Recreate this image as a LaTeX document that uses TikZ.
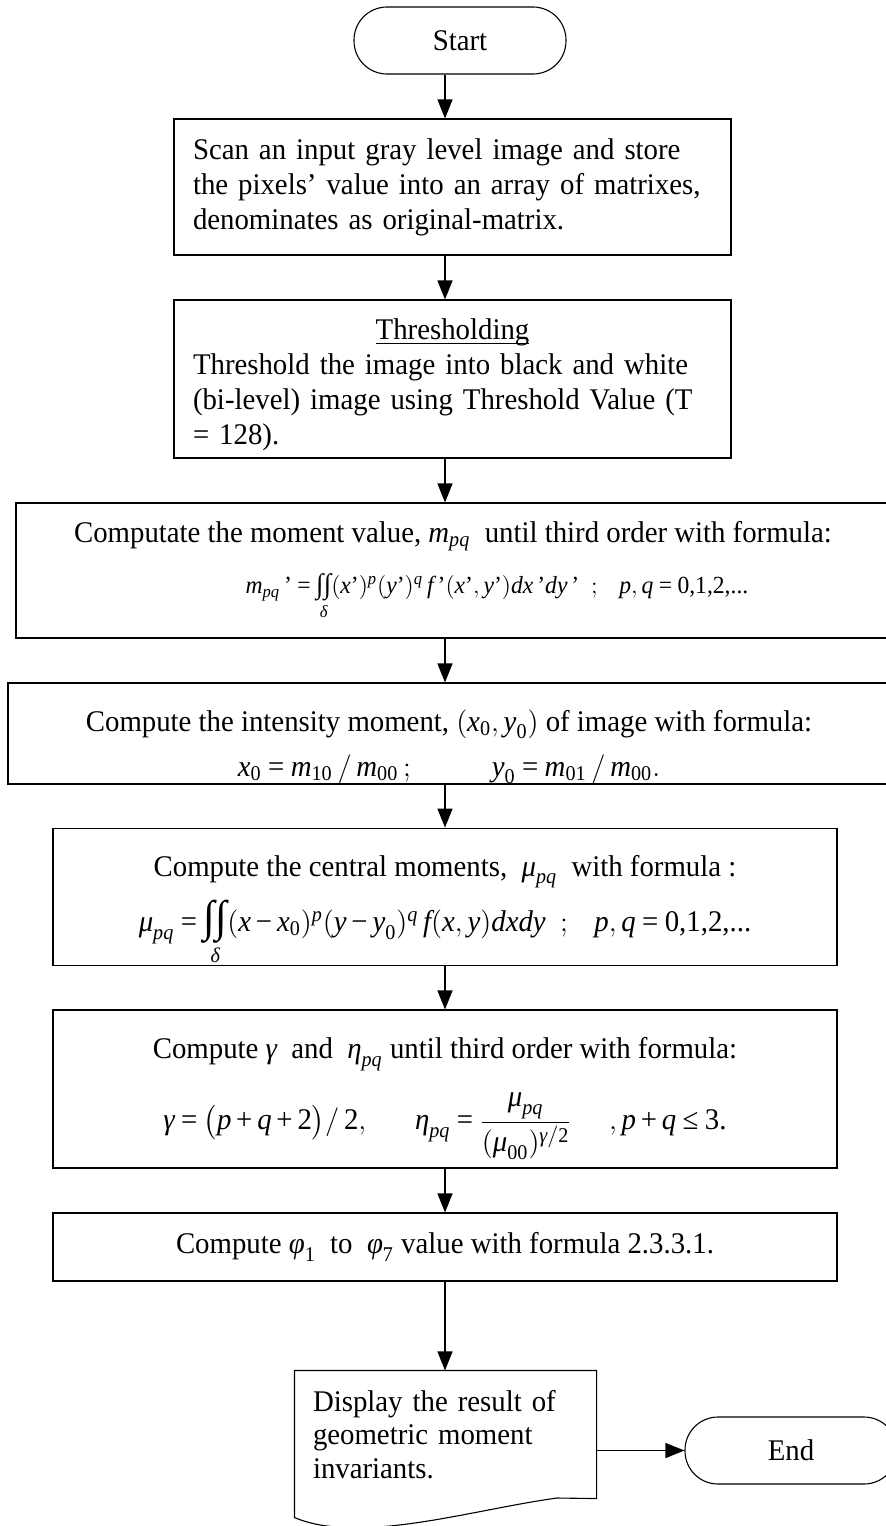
\documentclass[tikz,border=0pt]{standalone}
\usepackage{amsmath}
\usepackage{fontspec}
\setmainfont[FakeStretch=0.96]{Liberation Serif}
\usetikzlibrary{arrows.meta}
\newcommand\mi[1]{\textit{#1}}
\newcommand\tx[1]{\textup{#1}}
\newcommand\eq{\mathrel{\tx{=}}}
\newcommand\pl{\mathbin{\tx{+}}}
\newcommand\mn{\mathbin{\tx{−}}}
\newcommand\dint[1]{\mathop{\text{\fontsize{#1}{#1}\selectfont∫\kern.02em∫}}\limits}
\medmuskip=3mu\relax
\thickmuskip=4mu\relax

\begin{document}
\begin{tikzpicture}[x=.5pt,y=-.5pt,>={Triangle[length=9.5pt,width=7.5pt]},
 box/.style={draw,line width=.55pt,inner sep=0pt,align=center,font=\fontsize{15}{17.5}\selectfont},
 term/.style={box,rounded corners=16.5pt,minimum width=106pt,minimum height=33.5pt},
 flow/.style={->,line width=.65pt}]
 \useasboundingbox(0,0)rectangle(885,1526);
 \coordinate(spine)at(445,0);
 \node[term](start)at(460,40.5){Start};
 \node[box,minimum width=278.5pt,minimum height=68pt,text width=259.5pt,align=left](scan)at(452.5,187)
  {Scan an input gray level image and store\\the pixels’ value into an array of matrixes,\\denominates as original-matrix.};
 \node[box,minimum width=278.5pt,minimum height=79pt,text width=259.5pt,align=left](thr)at(452.5,379)
  {\rule{0pt}{16pt}\hfill\underline{\smash{Thresholding}}\hfill\null\\Threshold the image into black and white\\(bi-level) image using Threshold Value (T\\= 128).};
 \node[box,minimum width=437pt,minimum height=67.5pt](mom)at(453,570.5)
  {Computate the moment value, $\mi{m}_{\mi{pq}}$\ \ until third order with formula:\\[8pt]
  \hspace*{44pt}{\fontsize{12.3}{12.5}\selectfont$\mi{m}_{\mi{pq}}\,\tx{'}\eq\dint{14}_{\mi{δ}}(\mi{x}\tx{'})^{\mi{p}}(\mi{y}\tx{'})^{\mi{q}}\,\mi{f}\,\tx{'}(\mi{x}\tx{'},\mi{y}\tx{'})\mi{dx}\,\tx{'}\mi{dy}\,\tx{'}\ \ ;\ \ \ \mi{p},\mi{q}\eq\tx{0,1,2,...}$}};
 \node[box,minimum width=441pt,minimum height=50.5pt](cen)at(449,733.5)
  {\rule{0pt}{24pt}Compute the intensity moment, $(\mi{x}_{\tx{0}},\mi{y}_{\tx{0}})$ of image with formula:\\[5pt]
  $\mi{x}_{\tx{0}}\eq\mi{m}_{\tx{10}}\,/\,\mi{m}_{\tx{00}}\,;\hspace{38pt}\mi{y}_{\tx{0}}\eq\mi{m}_{\tx{01}}\,/\,\mi{m}_{\tx{00}}.$};
 \node[box,minimum width=392pt,minimum height=68pt](cmom)at(445,897)
  {\rule{0pt}{24pt}Compute the central moments,\ \ $\mi{μ}_{\mi{pq}}$\ \ with formula :\\[5pt]
  $\mi{μ}_{\mi{pq}}\eq\dint{22}_{\mi{δ}}(\mi{x}\mn\mi{x}_{\tx{0}})^{\mi{p}}(\mi{y}\mn\mi{y}_{\tx{0}})^{\mi{q}}\,\mi{f}(\mi{x},\mi{y})\mi{dxdy}\ \ ;\ \ \ \mi{p},\mi{q}\eq\tx{0,1,2,...}$};
 \node[box,minimum width=392pt,minimum height=79pt](norm)at(445,1089)
  {\rule{0pt}{20pt}Compute $\mi{γ}$\ \ and\ \ $\mi{η}_{\mi{pq}}$ until third order with formula:\\[10pt]
  $\mi{γ}\eq\bigl(\mi{p}\pl\mi{q}\pl\tx{2}\bigr)/\,\tx{2},\hspace{22pt}\mi{η}_{\mi{pq}}\eq\dfrac{\mi{μ}_{\mi{pq}}}{(\mi{μ}_{\tx{00}})^{\mi{γ}/\tx{2}}}\quad\ ,\mi{p}\pl\mi{q}\mathrel{\tx{≤}}\tx{3.}$};
 \node[box,minimum width=392pt,minimum height=34pt](inv)at(445,1247)
  {Compute $\mi{φ}_{\tx{1}}$\ \ to\ \ $\mi{φ}_{\tx{7}}$\ value with formula 2.3.3.1.};
 \node[box,draw=none,minimum width=150.5pt,minimum height=63.5pt,text width=132.5pt,align=left,
  font=\fontsize{15}{16.75}\selectfont](disp)at(445.5,1434.5)
  {Display the result of\\geometric moment\\invariants.};
 \draw[line width=.55pt](disp.south east)--(557,1498)
  ..controls(470,1510)and(360,1545)..([yshift=-9.5pt]disp.south west)
  --(disp.north west)--(disp.north east)--cycle;
 \node[term](end)at(791,1450.5){End};
 \draw[flow](start.south-|spine)--(scan.north-|spine);
 \draw[flow](scan.south-|spine)--(thr.north-|spine);
 \draw[flow](thr.south-|spine)--(mom.north-|spine);
 \draw[flow](mom.south-|spine)--(cen.north-|spine);
 \draw[flow](cen.south-|spine)--(cmom.north-|spine);
 \draw[flow](cmom.south-|spine)--(norm.north-|spine);
 \draw[flow](norm.south-|spine)--(inv.north-|spine);
 \draw[flow](inv.south-|spine)--(disp.north-|spine);
 \draw[flow](disp.east|-end.west)--(end.west);
\end{tikzpicture}
\end{document}
